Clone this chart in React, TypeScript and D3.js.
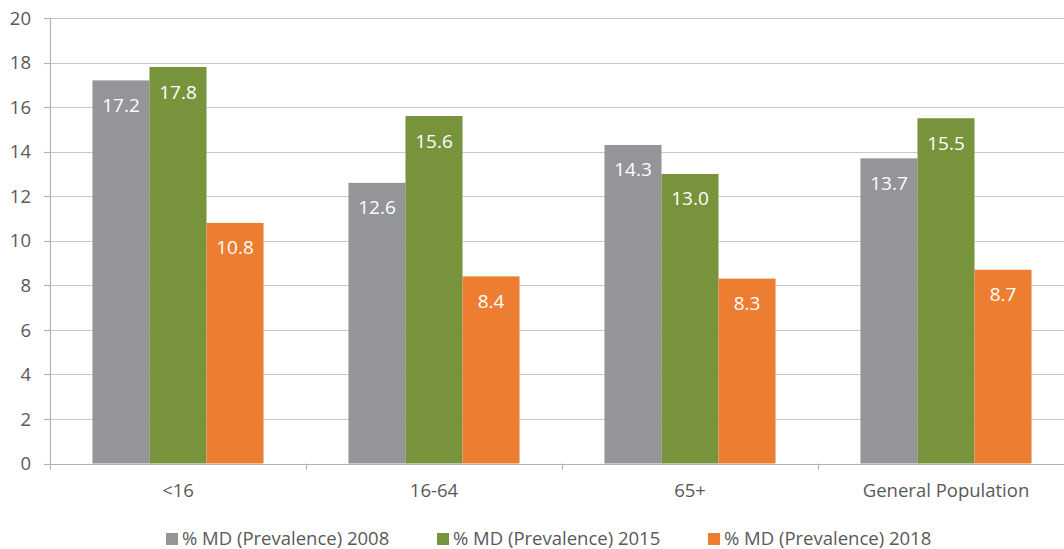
import React from "react";
import * as d3 from "d3";

const categories = ["<16", "16-64", "65+", "General Population"];
const seriesNames = [
  "% MD (Prevalence) 2008",
  "% MD (Prevalence) 2015",
  "% MD (Prevalence) 2018",
];
const values2008 = [17.2, 12.6, 14.3, 13.7];
const values2015 = [17.8, 15.6, 13.0, 15.5];
const values2018 = [10.8, 8.4, 8.3, 8.7];
const seriesColors = ["#939598", "#77933c", "#ed7d31"];
const yTicks = [0, 2, 4, 6, 8, 10, 12, 14, 16, 18, 20];

const W = 1064;
const H = 549;
const FONT = "'Open Sans', sans-serif";
const TEXT = "#595959";

export default function App() {
  const seriesValues = [values2008, values2015, values2018];
  const x = d3.scaleBand<string>().domain(categories).range([50, 1074]);
  const inner = d3
    .scaleBand<string>()
    .domain(seriesNames)
    .range([0, x.bandwidth()])
    .paddingOuter(0.745);
  const y = d3.scaleLinear().domain([0, 20]).range([463.5, 18]);
  const fmt = d3.format(".1f");

  const boundaries = categories.map((c) => x(c) as number);

  return (
    <svg
      width={W}
      height={H}
      style={{ position: "absolute", left: 0, top: 0, background: "#fff" }}
      fontFamily={FONT}
    >
      {/* horizontal gridlines */}
      {yTicks.map((t) => (
        <line
          key={"g" + t}
          x1={50}
          x2={W}
          y1={Math.round(y(t)) + 0.5}
          y2={Math.round(y(t)) + 0.5}
          stroke="#c8c8c8"
          strokeWidth={1.2}
        />
      ))}
      {/* y axis line and ticks */}
      <line x1={50.5} x2={50.5} y1={y(20)} y2={y(0) + 0.5} stroke="#b3b3b3" strokeWidth={1.2} />
      {yTicks.map((t) => (
        <g key={"t" + t}>
          <line
            x1={44}
            x2={50}
            y1={Math.round(y(t)) + 0.5}
            y2={Math.round(y(t)) + 0.5}
            stroke="#b3b3b3"
            strokeWidth={1.2}
          />
          <text
            x={31}
            y={y(t)}
            dy="0.36em"
            textAnchor="end"
            fontSize={18.5}
            fill={TEXT}
          >
            {t}
          </text>
        </g>
      ))}

      {/* bars */}
      {categories.map((c, ci) =>
        seriesNames.map((s, si) => {
          const v = seriesValues[si][ci];
          const bx = (x(c) as number) + (inner(s) as number);
          const by = y(v);
          return (
            <g key={c + s}>
              <rect
                x={bx}
                y={by}
                width={inner.bandwidth()}
                height={y(0) - by}
                fill={seriesColors[si]}
              />
              <text
                x={bx + inner.bandwidth() / 2}
                y={by + 31.5}
                textAnchor="middle"
                fontSize={19}
                fill="#ffffff"
              >
                {fmt(v)}
              </text>
            </g>
          );
        })
      )}

      {/* x axis line and category ticks */}
      <line x1={50} x2={W} y1={Math.round(y(0)) + 0.5} y2={Math.round(y(0)) + 0.5} stroke="#b3b3b3" strokeWidth={1.2} />
      {boundaries.map((bx, i) => (
        <line
          key={"xb" + i}
          x1={Math.round(bx) + 0.5}
          x2={Math.round(bx) + 0.5}
          y1={y(0)}
          y2={y(0) + 6}
          stroke="#b3b3b3"
          strokeWidth={1.2}
        />
      ))}
      {categories.map((c) => (
        <text
          key={"c" + c}
          x={(x(c) as number) + x.bandwidth() / 2}
          y={497}
          textAnchor="middle"
          fontSize={18.5}
          fill={TEXT}
        >
          {c}
        </text>
      ))}

      {/* legend */}
      {seriesNames.map((s, i) => {
        const lx = 166 + i * 271;
        return (
          <g key={"l" + s}>
            <rect x={lx} y={533} width={12} height={12} fill={seriesColors[i]} />
            <text x={lx + 16} y={545} fontSize={18.5} fill={TEXT}>
              {s}
            </text>
          </g>
        );
      })}
    </svg>
  );
}
